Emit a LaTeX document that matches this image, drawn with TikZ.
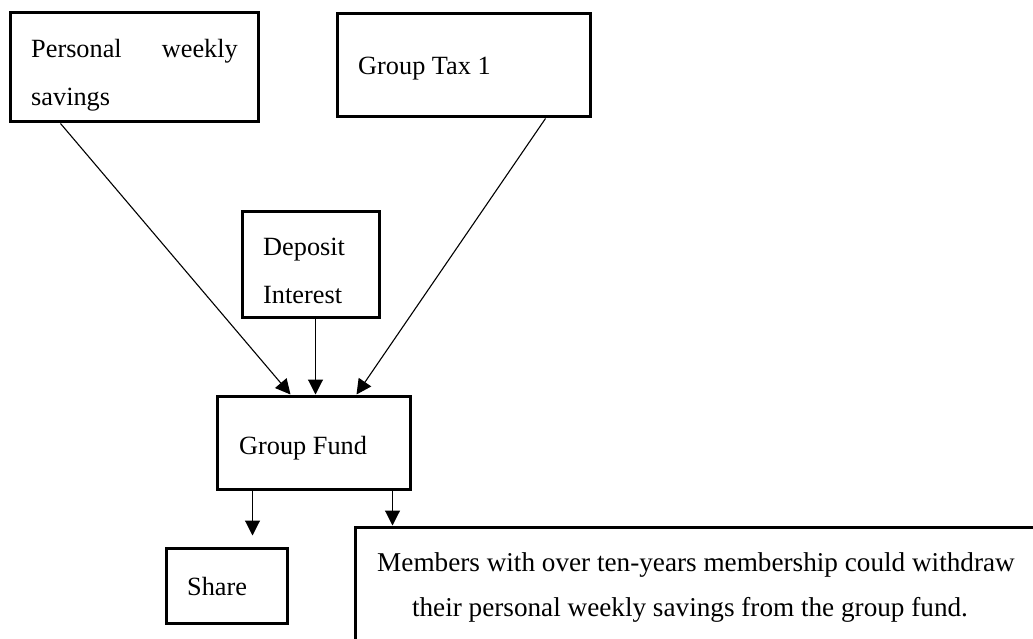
\documentclass[tikz,border=0pt]{standalone}
\usepackage{fontspec}
\setmainfont{Liberation Serif}
\usetikzlibrary{arrows.meta}
\begin{document}
\begin{tikzpicture}[x=1pt,y=-1pt,
  box/.style={draw,line width=3pt,rectangle,inner sep=0pt},
  lbl/.style={inner sep=0pt,font=\fontsize{26.3}{30}\selectfont},
  note/.style={inner sep=0pt,font=\fontsize{27.2}{30}\selectfont},
  conn/.style={line width=1.1pt,-{Triangle[length=15pt,width=15pt]}}]
\clip (0,0) rectangle (1033,639);
\useasboundingbox (0,0) rectangle (1033,639);
\fill[white] (0,0) rectangle (1033,639);

% boxes
\node[box,minimum width=248pt,minimum height=109pt] (P)  at (134,67.5) {};
\node[box,minimum width=253pt,minimum height=103pt] (GT) at (463.5,65.5) {};
\node[box,minimum width=137pt,minimum height=105pt] (DI) at (310.5,264.5) {};
\node[box,minimum width=193pt,minimum height=93pt]  (GF) at (313.5,442.5) {};
\node[box,minimum width=121pt,minimum height=75pt]  (SH) at (226.5,585.5) {};
\node[box,minimum width=705pt,minimum height=133pt] (MB) at (707.5,593.5) {};

% labels
\node[lbl,anchor=base west] (tP1) at (31,58) {Personal};
\node[lbl,anchor=base east] (tP2) at (238,58) {weekly};
\node[lbl,anchor=base west] (tP3) at (31,106) {savings};
\node[lbl,anchor=base west] (tGT) at (358,75) {Group Tax 1};
\node[lbl,anchor=base west] (tD1) at (263,255) {Deposit};
\node[lbl,anchor=base west] (tD2) at (263,303) {Interest};
\node[lbl,anchor=base west] (tGF) at (239,454) {Group Fund};
\node[lbl,anchor=base west] (tSH) at (187,595) {Share};
\node[note,anchor=base] (tM1) at (696,571) {Members with over ten-years membership could withdraw};
\node[note,anchor=base] (tM2) at (690,616) {their personal weekly savings from the group fund.};

% connectors
\draw[conn] ([xshift=52pt]P.south west) -- ([xshift=75pt]GF.north west);
\draw[conn] ([xshift=75pt]DI.south west) -- ([xshift=100pt]GF.north west);
\draw[conn] ([xshift=210pt]GT.south west) -- ([xshift=141pt]GF.north west);
\draw[conn] ([xshift=37pt]GF.south west) -- ([xshift=88pt,yshift=11pt]SH.north west);
\draw[conn] ([xshift=177pt]GF.south west) -- ([xshift=39pt]MB.north west);
\end{tikzpicture}
\end{document}
